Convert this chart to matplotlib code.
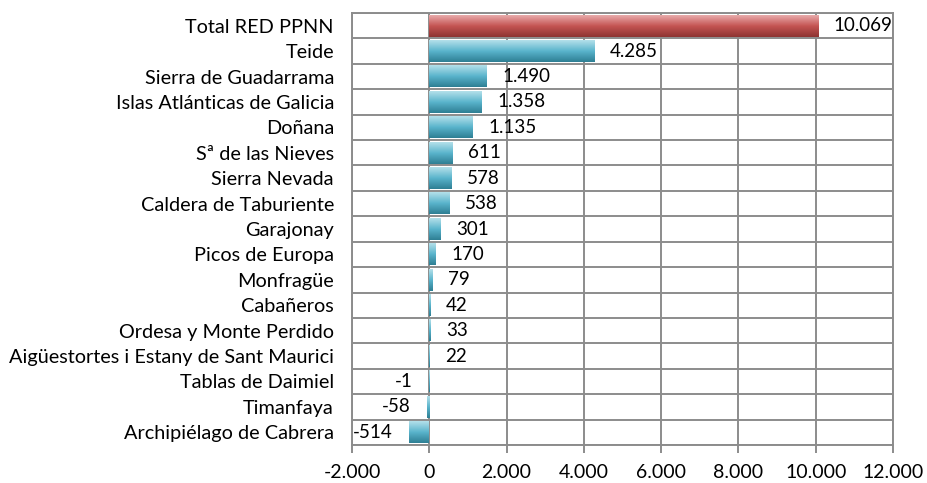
import numpy as np
import matplotlib.pyplot as plt
from matplotlib.colors import LinearSegmentedColormap
from matplotlib.ticker import FuncFormatter, MultipleLocator

parques = ["Total RED PPNN", "Teide", "Sierra de Guadarrama", "Islas Atlánticas de Galicia",
           "Doñana", "Sª de las Nieves", "Sierra Nevada", "Caldera de Taburiente", "Garajonay",
           "Picos de Europa", "Monfragüe", "Cabañeros", "Ordesa y Monte Perdido",
           "Aigüestortes i Estany de Sant Maurici", "Tablas de Daimiel", "Timanfaya",
           "Archipiélago de Cabrera"]
valores = [10069, 4285, 1490, 1358, 1135, 611, 578, 538, 301, 170, 79, 42, 33, 22, -1, -58, -514]

plt.rcParams['font.family'] = ['Lato', 'DejaVu Sans']

teal = LinearSegmentedColormap.from_list("teal", ["#b4e0ea", "#5ab4cc", "#2e7f94"])
red = LinearSegmentedColormap.from_list("red", ["#e8aaaa", "#c45452", "#8e3432"])

fig = plt.figure(figsize=(9.27, 4.83), dpi=100)
ax = fig.add_axes([0.3797, 0.0787, 0.5836, 0.8943])

y = np.arange(len(parques))
bars = ax.barh(y, valores, height=0.85, color="none", edgecolor="none", zorder=3)

grad = np.linspace(0, 1, 64).reshape(-1, 1)
for i, b in enumerate(bars):
    x0, y0 = b.get_x(), b.get_y()
    w, h = b.get_width(), b.get_height()
    cmap = red if i == 0 else teal
    ax.imshow(grad, cmap=cmap, aspect="auto", zorder=3,
              extent=[min(x0, x0 + w), max(x0, x0 + w), y0 + h, y0],
              interpolation="bilinear")

fs = 13.5
for v, yy in zip(valores, y):
    txt = f"{v:,}".replace(",", ".")
    if v >= 0:
        ax.annotate(txt, (v, yy), xytext=(11, 0), textcoords="offset points",
                    ha="left", va="center", fontsize=fs)
    else:
        ax.annotate(txt, (v, yy), xytext=(-12, 0), textcoords="offset points",
                    ha="right", va="center", fontsize=fs)

ax.set_xlim(-2000, 12000)
ax.set_ylim(len(parques) - 0.5, -0.5)
ax.xaxis.set_major_locator(MultipleLocator(2000))
ax.xaxis.set_major_formatter(FuncFormatter(lambda v, p: f"{int(v):,}".replace(",", ".")))
ax.set_yticks(y)
ax.set_yticklabels(parques)
ax.set_yticks(np.arange(len(parques) + 1) - 0.5, minor=True)

gcol = "#8c8c8c"
ax.grid(axis="x", which="major", color=gcol, linewidth=1.4, zorder=1)
ax.grid(axis="y", which="minor", color=gcol, linewidth=1.4, zorder=1)
ax.set_axisbelow(True)
for s in ax.spines.values():
    s.set_color(gcol)
    s.set_linewidth(1.4)
ax.tick_params(axis="x", colors=gcol, length=6, width=1.4, labelcolor="black", labelsize=14, pad=8)
ax.tick_params(axis="y", which="both", length=0, labelsize=14.3, pad=13)

fig.savefig("out.png", dpi=100)
